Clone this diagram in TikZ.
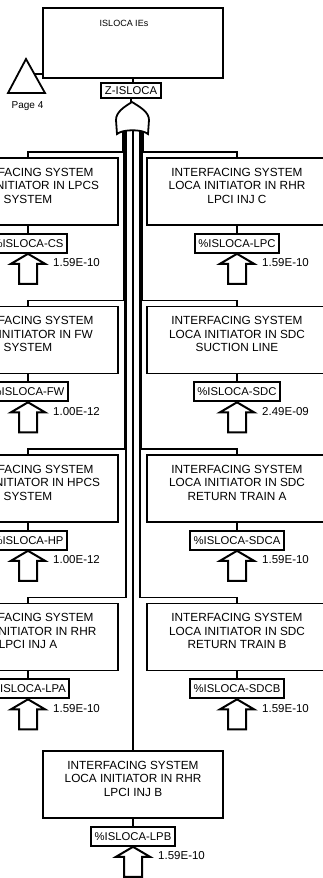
\documentclass[tikz,border=0pt]{standalone}
\usepackage{fontspec}
\setmainfont{Liberation Sans}
\usetikzlibrary{calc}
\tikzset{
 evbox/.style={draw, line width=1.8pt, minimum width=180pt, minimum height=67pt, inner sep=0pt},
 evtext/.style={align=center, inner sep=0pt, font=\fontsize{11.8}{13.5}\selectfont},
 lbl/.style={draw, line width=2pt, fill=white, inner xsep=3.5pt, inner ysep=0pt, minimum height=19pt, font=\fontsize{11.3}{12}\selectfont},
 num/.style={inner sep=0pt, font=\fontsize{11.5}{12}\selectfont},
 wire/.style={line width=1.5pt},
 bus/.style={line width=1.2pt},
 xferin/.pic={\draw[line width=2pt, line join=miter, fill=white] (0,0) -- (17,10) -- (9,10) -- (9,30) -- (-9,30) -- (-9,10) -- (-17,10) -- cycle;}
}
\newcommand{\evrow}[6]{%
  \node[evbox, anchor=north] (#1) at (#2,#3) {};
  \node[evtext, anchor=north] (#1t) at ([yshift=-11pt]#1.north) {#4};
  \node[lbl, anchor=north] (#1l) at ([yshift=-7pt]#1.south) {#5};
  \draw[wire] (#1.south) -- (#1l.north);
  \pic at (#1l.south) {xferin};
  \node[num, anchor=west] (#1n) at ([xshift=25pt,yshift=-9pt]#1l.south) {#6};
}
\begin{document}
\begin{tikzpicture}[x=1pt, y=-1pt]
\useasboundingbox (0,0) rectangle (323,878);
\clip (0,0) rectangle (323,878);
\fill[white] (0,0) rectangle (323,878);

% top event
\node[evbox, minimum height=70pt, anchor=north] (top) at (133,7) {};
\node[inner sep=0pt, font=\fontsize{9}{10}\selectfont] (topt) at (124,23) {ISLOCA IEs};
\node[lbl, minimum height=15pt, inner xsep=4pt] (z) at (131,90.5) {Z-ISLOCA};
\draw[wire] (top.south) -- (top.south |- z.north);

% transfer out triangle
\coordinate (triA) at (26,59);
\coordinate (triB) at (45,93);
\coordinate (triC) at (8,93);
\draw[line width=1.8pt, line join=miter] (triA) -- (triB) -- (triC) -- cycle;
\coordinate (triR) at (34.4,74);
\draw[wire] (triR) -- (top.west |- triR);
\node[inner sep=0pt, font=\fontsize{10}{11}\selectfont] (pg) at (27.5,106) {Page 4};

% event rows
\evrow{L1}{28}{157}{INTERFACING SYSTEM\\LOCA INITIATOR IN LPCS\\SYSTEM}{\%ISLOCA-CS}{1.59E-10}
\evrow{L2}{28}{305.5}{INTERFACING SYSTEM\\LOCA INITIATOR IN FW\\SYSTEM}{\%ISLOCA-FW}{1.00E-12}
\evrow{L3}{28}{454}{INTERFACING SYSTEM\\LOCA INITIATOR IN HPCS\\SYSTEM}{\%ISLOCA-HP}{1.00E-12}
\evrow{L4}{28}{602.5}{INTERFACING SYSTEM\\LOCA INITIATOR IN RHR\\LPCI INJ A}{\%ISLOCA-LPA}{1.59E-10}
\evrow{R1}{237}{157}{INTERFACING SYSTEM\\LOCA INITIATOR IN RHR\\LPCI INJ C}{\%ISLOCA-LPC}{1.59E-10}
\evrow{R2}{237}{305.5}{INTERFACING SYSTEM\\LOCA INITIATOR IN SDC\\SUCTION LINE}{\%ISLOCA-SDC}{2.49E-09}
\evrow{R3}{237}{454}{INTERFACING SYSTEM\\LOCA INITIATOR IN SDC\\RETURN TRAIN A}{\%ISLOCA-SDCA}{1.59E-10}
\evrow{R4}{237}{602.5}{INTERFACING SYSTEM\\LOCA INITIATOR IN SDC\\RETURN TRAIN B}{\%ISLOCA-SDCB}{1.59E-10}
\evrow{B}{133}{750}{INTERFACING SYSTEM\\LOCA INITIATOR IN RHR\\LPCI INJ B}{\%ISLOCA-LPB}{1.59E-10}

% gate inputs
\coordinate (gL1) at (122.4,126);
\coordinate (gL2) at (123.6,126);
\coordinate (gL3) at (124.8,126);
\coordinate (gL4) at (126.0,126);
\coordinate (gR4) at (140.0,126);
\coordinate (gR3) at (141.2,126);
\coordinate (gR2) at (142.4,126);
\coordinate (gR1) at (143.6,126);
\coordinate (gC) at (133,126);
\foreach \n in {L1,L2,L3,L4,R1,R2,R3,R4}{
  \draw[bus] (\n.north) -- ++(0,-5) -| (g\n);
}
\draw[wire] (gC) -- (B.north);

% OR gate
\coordinate (gApex) at (132,102);
\draw[line width=1.8pt, fill=white] (gApex) .. controls (124,107) and (116,112) .. (116,120) -- (117,134)
  .. controls (123,129) and (142,129) .. (148,134) -- (149,120)
  .. controls (149,112) and (140,107) .. (gApex) -- cycle;
\draw[wire] (z.south) -- (z.south |- gApex);
\end{tikzpicture}
\end{document}
